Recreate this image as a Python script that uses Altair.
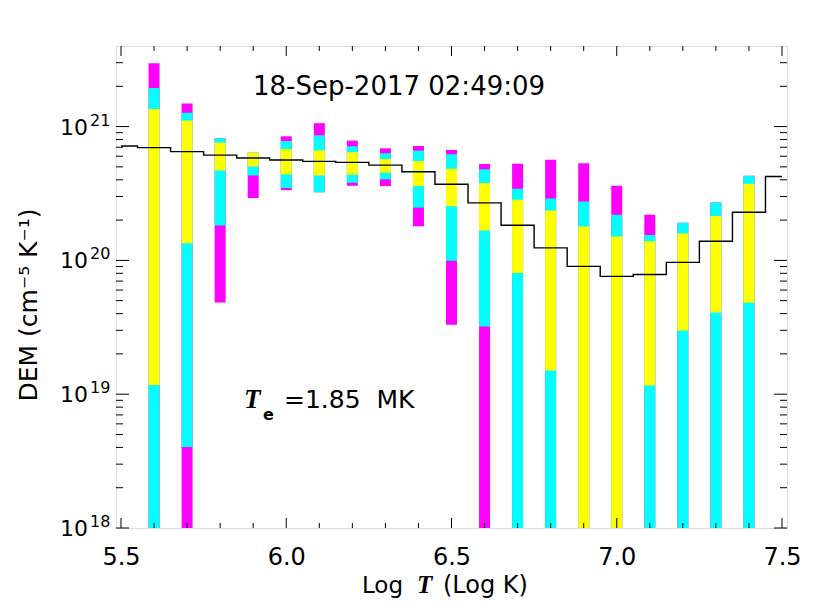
import altair as alt
import pandas as pd

# ---------------- data ----------------
LOW = 1e17  # below the axis floor (bar continues to the bottom frame)
bin_T = [5.6, 5.7, 5.8, 5.9, 6.0, 6.1, 6.2, 6.3, 6.4, 6.5,
         6.6, 6.7, 6.8, 6.9, 7.0, 7.1, 7.2, 7.3, 7.4]
mag_lo = [LOW, LOW, 4.84e19, 2.92e20, 3.35e20, 3.23e20, 3.61e20, 3.59e20, 1.80e20, 3.30e19,
          LOW, LOW, LOW, LOW, LOW, LOW, LOW, LOW, LOW]
mag_hi = [2.97e21, 1.49e21, 8.17e20, 6.38e20, 8.46e20, 1.06e21, 7.85e20, 6.88e20, 7.16e20, 6.68e20,
          5.25e20, 5.28e20, 5.66e20, 5.31e20, 3.61e20, 2.19e20, 1.91e20, 2.71e20, 4.29e20]
cyan_lo = [LOW, 4.03e18, 1.82e20, 4.31e20, 3.47e20, 3.23e20, 3.80e20, 4.03e20, 2.48e20, 9.95e19,
           3.20e19, LOW, LOW, LOW, LOW, LOW, LOW, LOW, LOW]
cyan_hi = [1.94e21, 1.27e21, 8.17e20, 6.38e20, 7.80e20, 8.61e20, 7.12e20, 6.31e20, 6.61e20, 6.20e20,
           4.79e20, 3.43e20, 2.90e20, 2.75e20, 2.19e20, 1.55e20, 1.91e20, 2.71e20, 4.29e20]
yel_lo = [1.17e19, 1.34e20, 4.70e20, 5.04e20, 4.39e20, 4.31e20, 4.37e20, 4.52e20, 3.59e20, 2.54e20,
          1.67e20, 8.05e19, 1.50e19, LOW, LOW, 1.16e19, 2.99e19, 4.08e19, 4.82e19]
yel_hi = [1.35e21, 1.11e21, 7.59e20, 6.38e20, 6.79e20, 6.64e20, 6.42e20, 5.72e20, 5.52e20, 4.84e20,
          3.78e20, 2.84e20, 2.36e20, 1.79e20, 1.51e20, 1.39e20, 1.59e20, 2.15e20, 3.74e20]

line_T = [5.5, 5.6, 5.7, 5.8, 5.9, 6.0, 6.1, 6.2, 6.3, 6.4, 6.5,
          6.6, 6.7, 6.8, 6.9, 7.0, 7.1, 7.2, 7.3, 7.4, 7.5]
line_dem = [7.16e20, 6.96e20, 6.50e20, 6.12e20, 5.82e20, 5.62e20, 5.49e20, 5.40e20, 5.15e20, 4.60e20,
            3.71e20, 2.69e20, 1.83e20, 1.24e20, 9.02e19, 7.59e19, 7.85e19, 9.66e19, 1.39e20,
            2.29e20, 4.24e20]

x_major = [5.5, 6.0, 6.5, 7.0, 7.5]
x_minor = [5.6, 5.7, 5.8, 5.9, 6.1, 6.2, 6.3, 6.4, 6.6, 6.7, 6.8, 6.9, 7.1, 7.2, 7.3, 7.4]
y_major = [1e18, 1e19, 1e20, 1e21]
y_label_base = ["10", "10", "10", "10"]
y_label_exp = ["18", "19", "20", "21"]
y_minor = [m * 10.0 ** e for e in (18, 19, 20) for m in range(2, 10)] + [2e21, 3e21]

title_text = "18-Sep-2017 02:49:09"
te_value_text = "=1.85\u00a0\u00a0MK"
xtitle_parts = ["Log", "T", "(Log\u00a0K)"]
ytitle_text = "DEM (cm⁻⁵ K⁻¹)"

# ---------------- chart ----------------
W, H = 671, 482
SANS = "DejaVu Sans"
SERIF = "Liberation Serif"

xs = alt.Scale(domain=[5.5, 7.5], nice=False, zero=False)
ys = alt.Scale(type="log", domain=[1e18, 4e21], nice=False)

xaxis = alt.Axis(values=x_major, format=".1f", ticks=False, domain=False, grid=False,
                 labelFont=SANS, labelFontSize=24, labelPadding=17, labelColor="black",
                 title=None)


def X(f):
    return alt.X(f, type="quantitative", scale=xs, axis=xaxis)


def Y(f):
    return alt.Y(f, type="quantitative", scale=ys, axis=None)


def bars(lo, hi, color):
    df = pd.DataFrame({"T": bin_T, "lo": lo, "hi": hi})
    return alt.Chart(df).mark_bar(color=color, size=11, clip=True).encode(
        x=X("T"), y=Y("lo"), y2="hi")


layers = [
    bars(mag_lo, mag_hi, "#FF00FF"),
    bars(cyan_lo, cyan_hi, "#00FFFF"),
    bars(yel_lo, yel_hi, "#FFFF00"),
]

line = alt.Chart(pd.DataFrame({"T": line_T, "DEM": line_dem})).mark_line(
    interpolate="step", color="black", strokeWidth=1.4, clip=True).encode(
    x=X("T"), y=Y("DEM"))
layers.append(line)

# inward ticks on all four sides
dfx_maj = pd.DataFrame({"T": x_major})
dfx_min = pd.DataFrame({"T": x_minor})
dfy_maj = pd.DataFrame({"DEM": y_major})
dfy_min = pd.DataFrame({"DEM": y_minor})
tick_style = dict(color="black", strokeWidth=1)
for df, ln in ((dfx_maj, 10), (dfx_min, 5)):
    layers.append(alt.Chart(df).mark_rule(**tick_style).encode(
        x=X("T"), y=alt.value(H), y2=alt.value(H - ln)))
    layers.append(alt.Chart(df).mark_rule(**tick_style).encode(
        x=X("T"), y=alt.value(0), y2=alt.value(ln)))
for df, ln in ((dfy_maj, 13), (dfy_min, 7)):
    layers.append(alt.Chart(df).mark_rule(**tick_style).encode(
        y=Y("DEM"), x=alt.value(0), x2=alt.value(ln)))
    layers.append(alt.Chart(df).mark_rule(**tick_style).encode(
        y=Y("DEM"), x=alt.value(W), x2=alt.value(W - ln)))

# y tick labels: "10" with a raised exponent
ylab = pd.DataFrame({"DEM": y_major, "base": y_label_base, "exp": y_label_exp})
layers.append(alt.Chart(ylab).mark_text(font=SANS, fontSize=22, align="right",
                                         baseline="alphabetic", dy=8, color="black").encode(
    y=Y("DEM"), x=alt.value(-28), text="base:N"))
layers.append(alt.Chart(ylab).mark_text(font=SANS, fontSize=16, align="left",
                                         baseline="alphabetic", dy=-1, color="black").encode(
    y=Y("DEM"), x=alt.value(-26), text="exp:N"))


def label(text, x, y, **kw):
    return alt.Chart(pd.DataFrame({"s": [text]})).mark_text(**kw).encode(
        x=alt.value(x), y=alt.value(y), text="s:N")


layers += [
    label(title_text, 137, 49, font=SANS, fontSize=26, align="left", baseline="alphabetic",
          color="black"),
    label("T", 128, 362, font=SERIF, fontSize=27, fontStyle="italic", fontWeight="bold",
          align="left", baseline="alphabetic", color="black"),
    label("e", 147, 374, font=SANS, fontSize=16, fontWeight="bold",
          align="left", baseline="alphabetic", color="black"),
    label(te_value_text, 168, 362, font=SANS, fontSize=25, align="left",
          baseline="alphabetic", color="black"),
    label(xtitle_parts[0], 287, 547, font=SANS, fontSize=23, align="right",
          baseline="alphabetic", color="black"),
    label(xtitle_parts[1], 301, 547, font=SERIF, fontSize=25, fontStyle="italic",
          fontWeight="bold", align="left", baseline="alphabetic", color="black"),
    label(xtitle_parts[2], 327, 547, font=SANS, fontSize=24, align="left",
          baseline="alphabetic", color="black"),
    label(ytitle_text, -79, 259, font=SANS, fontSize=25, angle=270, align="center",
          baseline="alphabetic", color="black"),
]

chart = alt.layer(*layers).properties(
    width=W, height=H,
    autosize=alt.AutoSizeParams(type="none"),
    padding={"left": 108, "top": 38, "right": 35, "bottom": 72},
).configure_view(stroke="black", strokeWidth=1).configure(background="white")

chart.save("out.html", embed_options={"renderer": "svg", "actions": False})
